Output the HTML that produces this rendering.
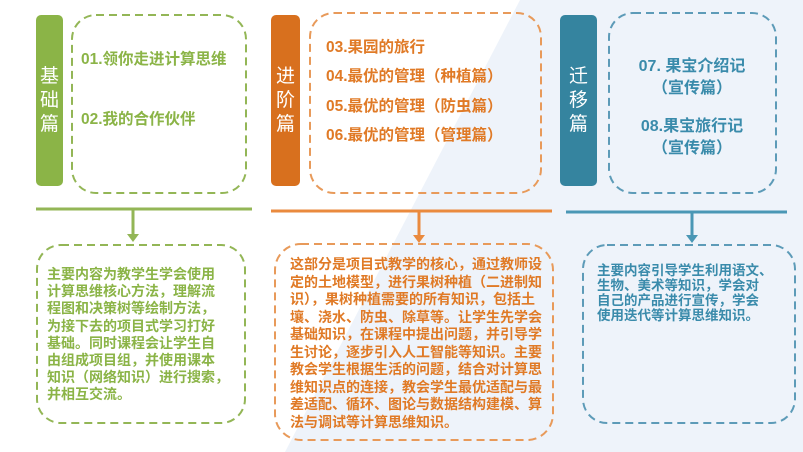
<!DOCTYPE html>
<html><head><meta charset="utf-8"><style>
body{margin:0;width:803px;height:452px;position:relative;overflow:hidden;background:#fff;font-family:"Liberation Sans","Noto Sans CJK SC",sans-serif;font-weight:bold}
.a{position:absolute}
.bar{position:absolute;border-radius:5px;color:#fff;font-weight:normal;font-size:19px;line-height:24px;text-align:center;display:flex;align-items:center;justify-content:center}
.t{position:absolute;font-size:14px;line-height:17.2px;white-space:nowrap}
</style></head><body>
<svg class="a" style="left:0;top:0" width="803" height="452">
<polygon points="520,0 803,0 803,452 285,452" fill="#eef3fa"/>
<g fill="none" stroke-width="2" stroke-dasharray="8,5">
<rect x="72" y="15" width="174" height="178" rx="24" stroke="#93b656"/>
<rect x="310" y="13" width="231" height="180" rx="24" stroke="#e89a5a"/>
<rect x="609" y="13" width="167" height="180" rx="24" stroke="#5d9bb8"/>
<rect x="37" y="245" width="208" height="178" rx="24" stroke="#93b656"/>
<rect x="275" y="244" width="278" height="196" rx="26" stroke="#e89a5a"/>
<rect x="583" y="245" width="212" height="178" rx="24" stroke="#5d9bb8"/>
</g>
<g stroke-width="3">
<line x1="36" y1="209" x2="252" y2="209" stroke="#93b656"/>
<line x1="133" y1="209" x2="133" y2="235" stroke="#93b656"/>
<line x1="271" y1="211" x2="552" y2="211" stroke="#ea8a3e"/>
<line x1="419" y1="211" x2="419" y2="236" stroke="#ea8a3e"/>
<line x1="566" y1="212" x2="787" y2="212" stroke="#4a97b5"/>
<line x1="692" y1="212" x2="692" y2="236" stroke="#4a97b5"/>
</g>
<polygon points="127,234 139,234 133,242" fill="#93b656"/>
<polygon points="413,235 425,235 419,243" fill="#ea8a3e"/>
<polygon points="686,235 698,235 692,243" fill="#4a97b5"/>
</svg>
<div class="bar" style="left:36px;top:15px;width:27px;height:171px;background:#8bb447">基<br>础<br>篇</div>
<div class="bar" style="left:271px;top:15px;width:29px;height:171px;background:#d8701e">进<br>阶<br>篇</div>
<div class="bar" style="left:560px;top:15px;width:37px;height:171px;background:#35849f">迁<br>移<br>篇</div>
<div class="t" style="left:81px;top:50px;font-size:15.5px;line-height:20px;color:#8bb447">01.领你走进计算思维</div>
<div class="t" style="left:81px;top:110px;font-size:15.5px;line-height:20px;color:#8bb447">02.我的合作伙伴</div>
<div class="t" style="left:326px;top:33px;font-size:15.5px;line-height:29.3px;color:#e07a26">03.果园的旅行<br>04.最优的管理（种植篇）<br>05.最优的管理（防虫篇）<br>06.最优的管理（管理篇）</div>
<div class="t" style="left:617px;top:56px;width:150px;text-align:center;font-size:16px;line-height:22px;color:#3a8bab">07. 果宝介绍记<br>（宣传篇）</div>
<div class="t" style="left:617px;top:116px;width:150px;text-align:center;font-size:16px;line-height:22px;color:#3a8bab">08.果宝旅行记<br>（宣传篇）</div>
<div class="t" style="left:47px;top:266px;color:#8bb447">主要内容为教学生学会使用<br>计算思维核心方法，理解流<br>程图和决策树等绘制方法，<br>为接下去的项目式学习打好<br>基础。同时课程会让学生自<br>由组成项目组，并使用课本<br>知识（网络知识）进行搜索，<br>并相互交流。</div>
<div class="t" style="left:290px;top:256px;line-height:17.5px;color:#e07a26">这部分是项目式教学的核心，通过教师设<br>定的土地模型，进行果树种植（二进制知<br>识），果树种植需要的所有知识，包括土<br>壤、浇水、防虫、除草等。让学生先学会<br>基础知识，在课程中提出问题，并引导学<br>生讨论，逐步引入人工智能等知识。主要<br>教会学生根据生活的问题，结合对计算思<br>维知识点的连接，教会学生最优适配与最<br>差适配、循环、图论与数据结构建模、算<br>法与调试等计算思维知识。</div>
<div class="t" style="left:597px;top:263px;font-size:13.5px;line-height:15px;color:#3a8bab">主要内容引导学生利用语文、<br>生物、美术等知识，学会对<br>自己的产品进行宣传，学会<br>使用迭代等计算思维知识。</div>
</body></html>
